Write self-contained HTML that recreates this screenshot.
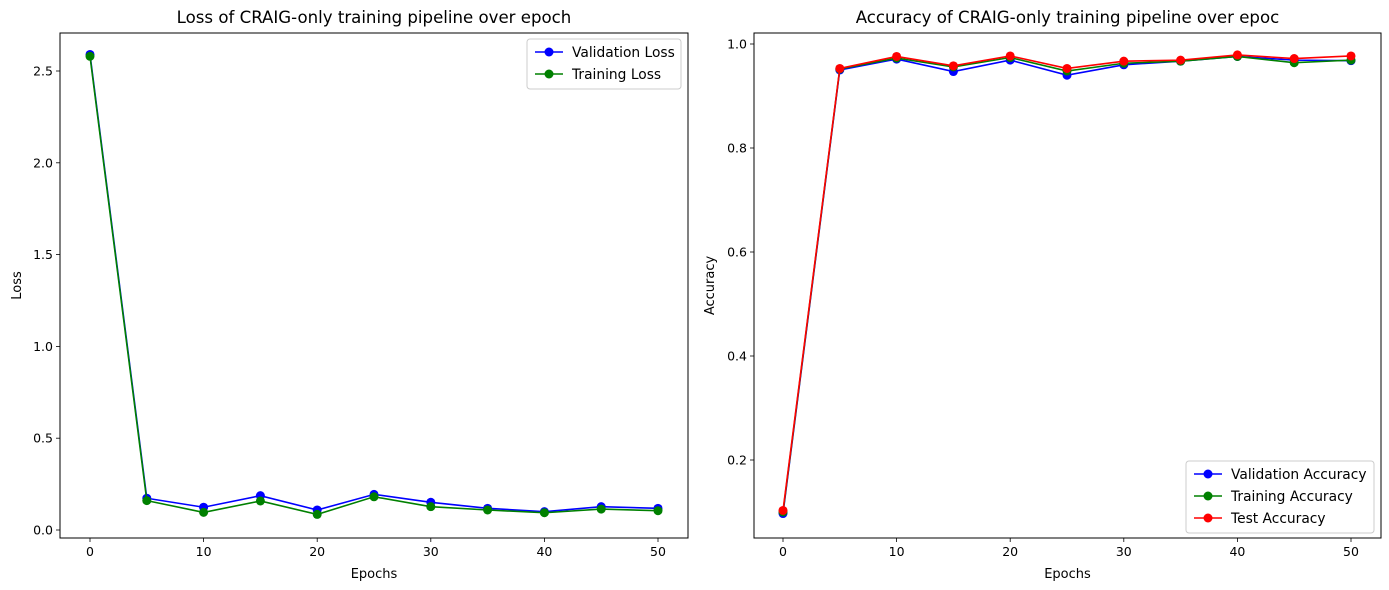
<!DOCTYPE html>
<html><head><meta charset="utf-8"><style>
body{margin:0;background:#fff;}
svg{display:block;font-family:"DejaVu Sans","Liberation Sans",sans-serif;}
</style></head><body>
<svg id="chart" width="1389" height="590" viewBox="0 0 1389 590"></svg>
<script>
const epochs=[0,5,10,15,20,25,30,35,40,45,50];
const valLoss=[2.59,0.173,0.124,0.187,0.109,0.194,0.151,0.118,0.10,0.127,0.118];
const trainLoss=[2.58,0.16,0.096,0.158,0.085,0.181,0.127,0.109,0.094,0.114,0.105];
const valAcc=[0.097,0.95,0.971,0.947,0.969,0.940,0.96,0.967,0.976,0.969,0.968];
const trainAcc=[0.10,0.952,0.973,0.956,0.974,0.948,0.963,0.967,0.976,0.964,0.969];
const testAcc=[0.103,0.953,0.976,0.958,0.977,0.953,0.967,0.969,0.979,0.972,0.977];
const xTicks=[0,10,20,30,40,50];
const lossTicks=[0,0.5,1.0,1.5,2.0,2.5];
const accTicks=[0.2,0.4,0.6,0.8,1.0];

const svg=document.getElementById('chart');
const NS='http://www.w3.org/2000/svg';
function mk(tag,attrs,parent){const e=document.createElementNS(NS,tag);for(const k in attrs)e.setAttribute(k,attrs[k]);(parent||svg).appendChild(e);return e;}
function txt(s,attrs,parent){const e=mk('text',attrs,parent);e.textContent=s;return e;}

function panel(cfg){
  const g=mk('g',{});
  
  
  const {L,R,T,B}=cfg;
  const xs=v=>cfg.x0+(v-0)*(cfg.x50-cfg.x0)/50;
  const ys=v=>cfg.yA+(v-cfg.vA)*(cfg.yB-cfg.yA)/(cfg.vB-cfg.vA);
  xTicks.forEach(t=>{
    const x=xs(t);
    const l=mk('line',{x1:x,x2:x,y1:B,y2:B+4,stroke:'#000','stroke-width':0.8},g);
    
    const tl=txt(String(t),{x:x,y:B+18,'font-size':12.5,'text-anchor':'middle'},g);
    
  });
  cfg.yTicks.forEach(t=>{
    const y=ys(t);
    const l=mk('line',{x1:L-4,x2:L,y1:y,y2:y,stroke:'#000','stroke-width':0.8},g);
    
    const tl=txt(t.toFixed(1),{x:L-7,y:y+4.5,'font-size':12.5,'text-anchor':'end'},g);
    
  });
  cfg.series.forEach(s=>{
    const sg=mk('g',{},g);
    
    
    const pts=epochs.map((e,i)=>xs(e)+','+ys(s.data[i])).join(' ');
    mk('polyline',{points:pts,fill:'none',stroke:s.color,'stroke-width':1.6},sg);
    epochs.forEach((e,i)=>{
      const c=mk('circle',{cx:xs(e),cy:ys(s.data[i]),r:4.5,fill:s.color},sg);
      
      
    });
  });
  const fr=mk('rect',{x:L,y:T,width:R-L,height:B-T,fill:'none',stroke:'#000','stroke-width':1},g);
  
  const ti=txt(cfg.title,{x:(L+R)/2,y:T-10,'font-size':16.6,'text-anchor':'middle'},g);
  
  const xl=txt('Epochs',{x:(L+R)/2,y:B+40,'font-size':13,'text-anchor':'middle'},g);
  
  const yl=txt(cfg.ylabel,{x:0,y:0,'font-size':13,'text-anchor':'middle',transform:`translate(${cfg.ylx},${(T+B)/2}) rotate(-90)`},g);
  
  const lg=mk('g',{},g);
  
  mk('rect',{x:cfg.lx,y:cfg.ly,width:cfg.lw,height:cfg.series.length*22+6,rx:3,fill:'#fff',stroke:'#ccc','stroke-width':1},lg);
  cfg.series.forEach((s,i)=>{
    const eg=mk('g',{},lg);
    
    const y=cfg.ly+13+i*22;
    mk('line',{x1:cfg.lx+8,x2:cfg.lx+36,y1:y,y2:y,stroke:s.color,'stroke-width':1.6},eg);
    mk('circle',{cx:cfg.lx+22,cy:y,r:4.5,fill:s.color},eg);
    txt(s.label,{x:cfg.lx+45,y:y+5,'font-size':13.8},eg);
  });
}
panel({name:'loss-chart',L:60,R:688,T:33,B:538,x0:90,x50:658,yA:530,vA:0,yB:71,vB:2.5,yTicks:lossTicks,
  title:'Loss of CRAIG-only training pipeline over epoch',ylabel:'Loss',ylx:21,lx:527,ly:39,lw:154,
  series:[{name:'validation-loss-line',label:'Validation Loss',color:'#0000ff',data:valLoss},
          {name:'training-loss-line',label:'Training Loss',color:'#008000',data:trainLoss}]});
panel({name:'accuracy-chart',L:754,R:1381,T:33,B:538,x0:783,x50:1351,yA:460,vA:0.2,yB:44,vB:1.0,yTicks:accTicks,
  title:'Accuracy of CRAIG-only training pipeline over epoc',ylabel:'Accuracy',ylx:714,lx:1186,ly:461,lw:188,
  series:[{name:'validation-accuracy-line',label:'Validation Accuracy',color:'#0000ff',data:valAcc},
          {name:'training-accuracy-line',label:'Training Accuracy',color:'#008000',data:trainAcc},
          {name:'test-accuracy-line',label:'Test Accuracy',color:'#ff0000',data:testAcc}]});
</script>
</body></html>
